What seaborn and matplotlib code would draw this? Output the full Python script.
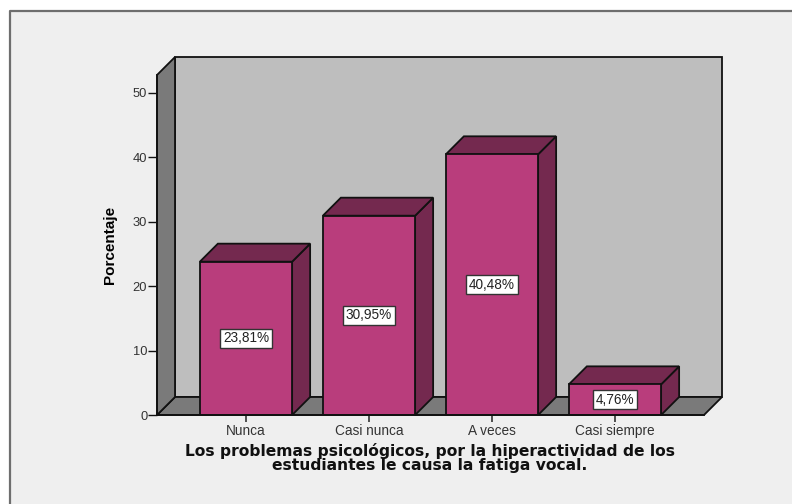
import matplotlib
matplotlib.use('Agg')
import matplotlib.pyplot as plt
import pandas as pd
import seaborn as sns
from matplotlib.patches import Polygon, Rectangle

categorias = ['Nunca', 'Casi nunca', 'A veces', 'Casi siempre']
porcentajes = [23.81, 30.95, 40.48, 4.76]
etiquetas = ['23,81%', '30,95%', '40,48%', '4,76%']
ticks_y = [0, 10, 20, 30, 40, 50]
titulo_x = 'Los problemas psicológicos, por la hiperactividad de los\nestudiantes le causa la fatiga vocal.'
titulo_y = 'Porcentaje'

W, H = 792, 504
FONDO = '#efefef'
PARED = '#bebebe'
SUELO = '#7a7a7a'
FRENTE = '#b93d7c'
LADO = '#74294f'
NEGRO = '#111111'

sns.set_theme(style='white')
plt.rcParams['font.family'] = ['Liberation Sans', 'DejaVu Sans']

df = pd.DataFrame({'categoria': categorias, 'porcentaje': porcentajes})

fig = plt.figure(figsize=(W / 100, H / 100), dpi=100, facecolor='white')
fig.add_artist(Rectangle((10 / W, 0), 1, 1 - 11 / H, transform=fig.transFigure,
                         fc=FONDO, ec='none', zorder=-5))
fig.add_artist(plt.Line2D([9.5 / W, 9.5 / W, 1], [0, 1 - 11 / H, 1 - 11 / H],
                          color='#6e6e6e', lw=1.6, zorder=-4))

# front plane of the 3D box, in pixels
x0, x1, y0, y_top = 157, 704, 415, 75
ax = fig.add_axes([x0 / W, 1 - y0 / H, (x1 - x0) / W, (y0 - y_top) / H])
ax.patch.set_alpha(0)

px_x = 123.0
px_y = 6.44
ax.set_xlim((x0 - 246) / px_x, (x1 - 246) / px_x)
ax.set_ylim(0, (y0 - y_top) / px_y)
dx = 18 / px_x
dy = 18 / px_y
xa, xb = ax.get_xlim()
yt = ax.get_ylim()[1]


def cara(puntos, color, z, lw=1.3):
    ax.add_patch(Polygon(puntos, closed=True, fc=color, ec=NEGRO, lw=lw,
                         zorder=z, clip_on=False, joinstyle='miter'))


cara([(xa + dx, dy), (xb + dx, dy), (xb + dx, yt + dy), (xa + dx, yt + dy)], PARED, 0.5)
cara([(xa, 0), (xa + dx, dy), (xb + dx, dy), (xb, 0)], SUELO, 0.6)
cara([(xa, 0), (xa, yt), (xa + dx, yt + dy), (xa + dx, dy)], SUELO, 0.7)

sns.barplot(data=df, x='categoria', y='porcentaje', color=FRENTE, saturation=1,
            width=0.75, edgecolor=NEGRO, linewidth=1.3, ax=ax, zorder=3)
ax.set_xlim(xa, xb)
ax.set_ylim(0, yt)

for i, v in enumerate(porcentajes):
    a, b = i - 0.375, i + 0.375
    cara([(b, 0), (b + dx, dy), (b + dx, v + dy), (b, v)], LADO, 2)
    cara([(a, v), (a + dx, v + dy), (b + dx, v + dy), (b, v)], LADO, 2)
    ax.text(i, v / 2, etiquetas[i], ha='center', va='center', fontsize=9.8,
            color='#222222', zorder=5,
            bbox=dict(boxstyle='square,pad=0.2', fc='white', ec='#333333', lw=1.0))

for lado in ax.spines.values():
    lado.set_visible(False)
ax.spines['left'].set_visible(True)
ax.spines['left'].set_color(NEGRO)
ax.spines['left'].set_linewidth(1.3)
ax.spines['bottom'].set_visible(True)
ax.spines['bottom'].set_color(NEGRO)
ax.spines['bottom'].set_linewidth(1.3)
ax.spines['bottom'].set_zorder(4)

ax.set_yticks(ticks_y)
ax.tick_params(axis='y', left=True, length=6.5, width=1.0, color=NEGRO, pad=0.5,
               labelsize=9.3, labelcolor='#333333')
ax.tick_params(axis='x', bottom=True, length=5, width=1.2, color='#333333', pad=1.5,
               labelsize=9.8, labelcolor='#333333')
ax.set_xlabel('')
ax.set_ylabel('')

fig.text(110 / W, 1 - 245 / H, titulo_y, rotation=90, ha='center', va='center',
         fontsize=11, fontweight='bold', color='black')
fig.text(430 / W, 1 - 458 / H, titulo_x, ha='center', va='center', fontsize=11.2,
         fontweight='bold', color='#111111', family='DejaVu Sans', linespacing=0.9)

fig.savefig('out.png', dpi=100)
